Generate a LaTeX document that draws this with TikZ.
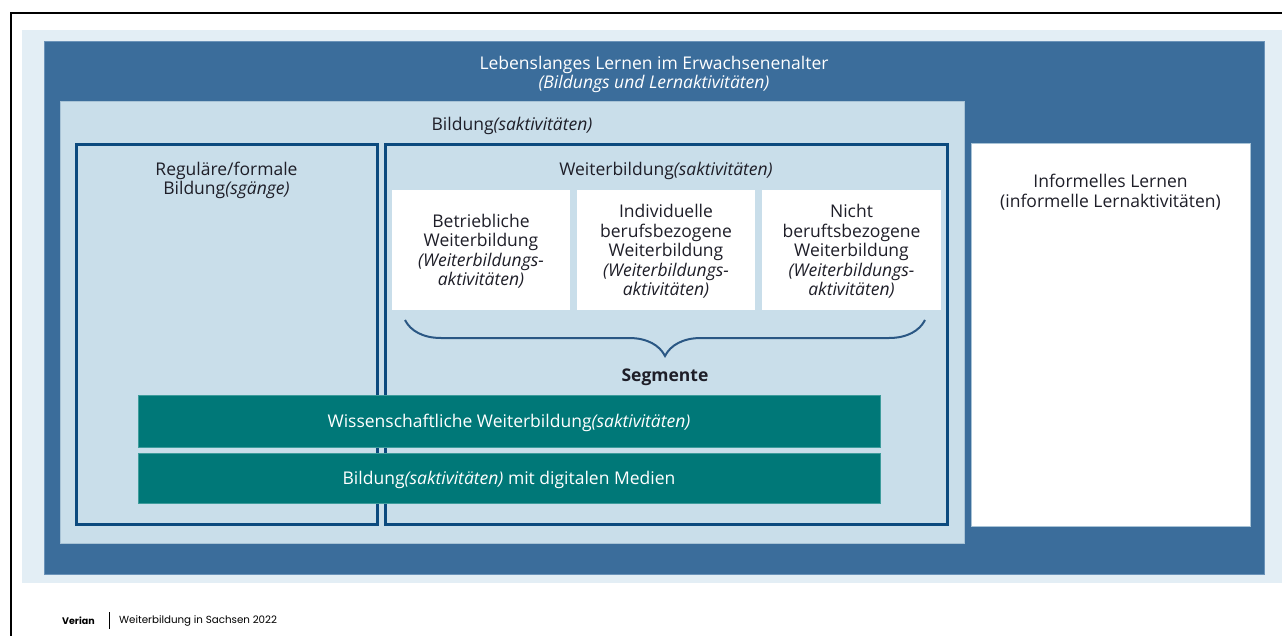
\documentclass[tikz,border=0pt]{standalone}
\usepackage{fontspec}
\setmainfont{Open Sans}
\newfontfamily\footfont{Poppins}
\usepackage{tikz}
\usetikzlibrary{positioning, decorations.pathreplacing}

\definecolor{paleBg}{HTML}{E3EEF5}
\definecolor{lllBlue}{HTML}{3B6D9B}
\definecolor{lllEdge}{HTML}{6B93B9}
\definecolor{bildBlue}{HTML}{C9DEEA}
\definecolor{bildEdge}{HTML}{A8C3D6}
\definecolor{frameBlue}{HTML}{0C4A7E}
\definecolor{barTeal}{HTML}{007878}
\definecolor{barEdge}{HTML}{3E9C9C}
\definecolor{braceBlue}{HTML}{2A5784}
\definecolor{inkDark}{HTML}{1E1E28}

\begin{document}
\begin{tikzpicture}[x=1pt, y=-1pt, font=\fontsize{17.5}{19.5}\selectfont]
        % Define block styles
        \tikzstyle{panel} = [rectangle, anchor=north west, inner sep=0pt, outer sep=0pt]
        \tikzstyle{outerpanel} = [panel, fill=lllBlue, draw=lllEdge, line width=0.8pt]
        \tikzstyle{bildpanel} = [panel, fill=bildBlue, draw=bildEdge, line width=0.8pt]
        \tikzstyle{framedpanel} = [panel, fill=bildBlue, draw=frameBlue, line width=3pt]
        \tikzstyle{whitepanel} = [panel, fill=white, draw=bildEdge, line width=0.8pt, align=center, text=inkDark]
        \tikzstyle{segment} = [panel, fill=white, align=center, text=inkDark, text depth=0pt]
        \tikzstyle{bar} = [panel, fill=barTeal, draw=barEdge, line width=0.8pt, text=white, text depth=0pt]
        \tikzstyle{title} = [inner sep=0pt, align=center, text=inkDark]
        \tikzstyle{brace} = [decorate, decoration={brace, amplitude=36pt}, draw=braceBlue, line width=2pt]

        \useasboundingbox (0,0) rectangle (1282,636);

        % Page frame
        \draw [line width=2pt] (11,636) -- (11,13) -- (1282,13);

        % Boxes
        \node (bg) [panel, fill=paleBg, minimum width=1260pt, minimum height=553pt] at (22,30) {};
        \node (lll) [outerpanel, minimum width=1220pt, minimum height=533pt] at (44,41) {};
        \node (bild) [bildpanel, minimum width=904pt, minimum height=442pt] at (60,101) {};
        \node (formal) [framedpanel, minimum width=301pt, minimum height=379pt] at (76,145) {};
        \node (weiter) [framedpanel, minimum width=562pt, minimum height=379pt] at (385,145) {};
        \node (informal) [whitepanel, minimum width=279pt, minimum height=383pt] at (971,143) {};

        % Titles
        \node (lllTitle) [title, text=white, below=15pt of lll.north] {Lebenslanges Lernen im Erwachsenenalter\\\textit{(Bildungs und Lernaktivitäten)}};
        \node (bildTitle) [title, below=16pt of bild.north] {Bildung\textit{(saktivitäten)}};
        \node (formalTitle) [title, below=16.5pt of formal.north] {Reguläre/formale\\Bildung\textit{(sgänge)}};
        \node (weiterTitle) [title, below=17pt of weiter.north] {Weiterbildung\textit{(saktivitäten)}};
        \node (informalTitle) [title, below=31pt of informal.north] {Informelles Lernen\\(informelle Lernaktivitäten)};

        % Segments
        \node (betrieb) [segment, minimum width=178pt, minimum height=120pt] at (392,190) {Betriebliche\\Weiterbildung\\\textit{(Weiterbildungs-}\\\textit{aktivitäten)}};
        \node (indiv) [segment, minimum width=178pt, minimum height=120pt] at (577,190) {Individuelle\\berufsbezogene\\Weiterbildung\\\textit{(Weiterbildungs-}\\\textit{aktivitäten)}};
        \node (nicht) [segment, minimum width=179pt, minimum height=120pt] at (762,190) {Nicht\\beruftsbezogene\\Weiterbildung\\\textit{(Weiterbildungs-}\\\textit{aktivitäten)}};

        % Brace under the segments
        \coordinate (braceL) at ([shift={(13pt,-10pt)}]betrieb.south west);
        \coordinate (braceR) at ([shift={(-16pt,-10pt)}]nicht.south east);
        \draw [brace] (braceR) -- node[title, font=\fontsize{17.5}{19.5}\selectfont\bfseries, below=48pt] (segLabel) {Segmente} (braceL);

        % Cross-cutting bars
        \node (wiss) [bar, minimum width=742pt, minimum height=52pt] at (138,395) {Wissenschaftliche Weiterbildung\textit{(saktivitäten)}};
        \node (digital) [bar, minimum width=742pt, minimum height=50pt] at (138,453) {Bildung\textit{(saktivitäten)} mit digitalen Medien};

        % Footer
        \node (verian) [anchor=west, inner sep=0pt, font=\footfont\bfseries\fontsize{9.5}{11}\selectfont] at (62,621) {Verian};
        \node (source) [anchor=west, inner sep=0pt, font=\footfont\fontsize{10.3}{12}\selectfont, right=24pt of verian] {Weiterbildung in Sachsen 2022};
        \draw [line width=0.6pt] ([xshift=-10pt, yshift=9pt]source.west) -- ([xshift=-10pt, yshift=-8pt]source.west);
    \end{tikzpicture}
\end{document}
